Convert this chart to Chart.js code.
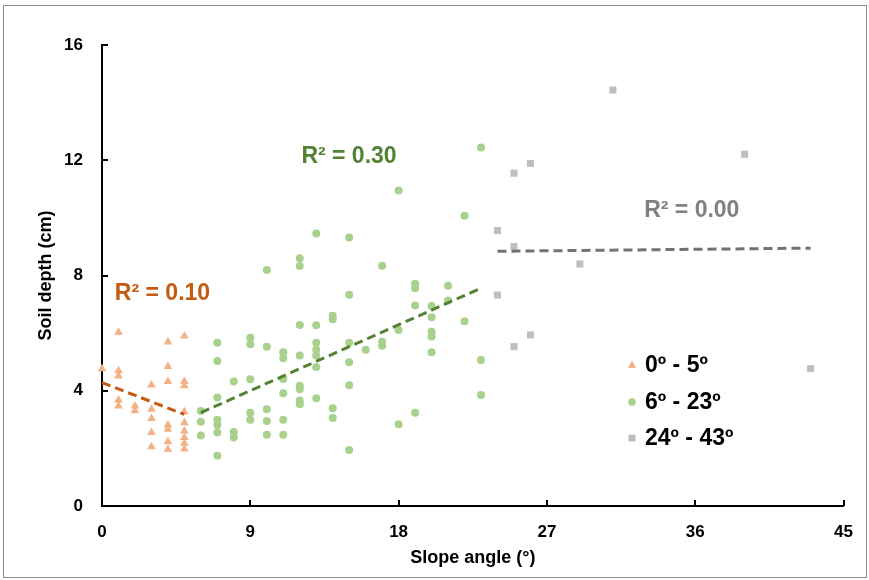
<!DOCTYPE html>
<html>
<head>
<meta charset="utf-8">
<script src="https://cdn.jsdelivr.net/npm/chart.js@4.4.1/dist/chart.umd.min.js"></script>
<style>
  html, body { margin: 0; padding: 0; background: #ffffff; }
  #wrap { position: relative; width: 869px; height: 580px; }
  #frame { position: absolute; left: 3px; top: 5px; width: 862px; height: 571px; border: 1px solid #8c8c8c; pointer-events: none; }
  canvas { display: block; }
</style>
</head>
<body>
<div id="wrap">
  <canvas id="c" width="869" height="580"></canvas>
  <div id="frame"></div>
</div>
<script>
// ---- Data ----
const seriesNames = ['0º - 5º', '6º - 23º', '24º - 43º'];

const lowSlopeX = [0, 1, 1, 1, 1, 1, 2, 2, 3, 3, 3, 3, 3, 4, 4, 4, 4, 4, 4, 4, 5, 5, 5, 5, 5, 5, 5, 5, 5];
const lowSlopeY = [4.76, 6.03, 4.69, 4.51, 3.68, 3.47, 3.47, 3.31, 4.2, 3.36, 3.04, 2.55, 2.06,
                   5.69, 4.84, 4.32, 2.81, 2.66, 2.23, 1.97, 5.9, 4.32, 4.17, 3.27, 2.89, 2.6, 2.38, 2.18, 1.98];

const midSlopeX = [6, 6, 6, 7, 7, 7, 7, 7, 7, 7, 8, 8, 8, 9, 9, 9, 9, 9, 10, 10, 10, 10, 10,
                   11, 11, 11, 11, 11, 11, 12, 12, 12, 12, 12, 12, 12, 12, 13, 13, 13, 13, 13, 13, 13,
                   14, 14, 14, 14, 15, 15, 15, 15, 15, 15, 16, 17, 17, 17, 18, 18, 18, 19, 19, 19, 19,
                   20, 20, 20, 20, 20, 21, 21, 22, 22, 23, 23, 23];
const midSlopeY = [3.30, 2.92, 2.45, 5.67, 5.03, 3.77, 2.99, 2.81, 2.55, 1.74, 4.32, 2.57, 2.38,
                   5.84, 5.61, 4.40, 3.24, 2.99, 8.19, 5.53, 3.36, 2.95, 2.47,
                   5.34, 5.13, 4.41, 3.91, 2.99, 2.47, 8.6, 8.33, 6.28, 5.22, 4.17, 4.05, 3.66, 3.53,
                   9.46, 6.27, 5.67, 5.42, 5.22, 4.82, 3.74, 6.6, 6.48, 3.39, 3.05,
                   9.32, 7.33, 5.67, 4.99, 4.19, 1.94, 5.42, 8.34, 5.7, 5.56, 10.95, 6.11, 2.84,
                   7.71, 7.56, 6.96, 3.24, 6.94, 6.55, 6.05, 5.88, 5.34, 7.64, 7.13, 10.07, 6.41,
                   12.44, 5.07, 3.85];

const highSlopeX = [24, 24, 25, 25, 25, 26, 26, 29, 31, 39, 43];
const highSlopeY = [9.56, 7.32, 11.55, 9.0, 5.53, 11.89, 5.94, 8.40, 14.44, 12.21, 4.77];

// Linear trend lines (end points)
const lowTrendX = [0, 5];
const lowTrendY = [4.28, 3.18];
const midTrendX = [6, 23];
const midTrendY = [3.24, 7.56];
const highTrendX = [24, 43];
const highTrendY = [8.84, 8.95];

const r2Labels = ['R² = 0.10', 'R² = 0.30', 'R² = 0.00'];

const xTickValues = [0, 9, 18, 27, 36, 45];
const yTickValues = [0, 4, 8, 12, 16];

// ---- Styles ----
const FONT = "'Liberation Sans', Arial, sans-serif";
const colors = {
  lowPt: '#F4B183', lowLine: '#C55A11',
  midPt: '#A9D18E', midLine: '#548235',
  highPt: '#BFBFBF', highLine: '#767171', highText: '#808080'
};

const pts = (xs, ys) => xs.map((x, i) => ({ x: x, y: ys[i] }));

// Annotation anchors (data coordinates, left-aligned text)
const r2Anchors = [
  { x: 0.78, y: 7.38, color: colors.lowLine },
  { x: 12.1, y: 12.12, color: colors.midLine },
  { x: 32.9, y: 10.24, color: colors.highText }
];

const annotationPlugin = {
  id: 'r2text',
  afterDatasetsDraw(chart) {
    const { ctx, scales: { x, y } } = chart;
    ctx.save();
    ctx.font = 'bold 23px ' + FONT;
    ctx.textAlign = 'left';
    ctx.textBaseline = 'middle';
    r2Labels.forEach((t, i) => {
      const a = r2Anchors[i];
      ctx.fillStyle = a.color;
      ctx.fillText(t, x.getPixelForValue(a.x), y.getPixelForValue(a.y));
    });
    ctx.restore();
  }
};

const inwardTicks = {
  id: 'inwardTicks',
  afterDraw(chart) {
    const { ctx, chartArea, scales: { x, y } } = chart;
    ctx.save();
    ctx.strokeStyle = '#000';
    ctx.lineWidth = 2;
    ctx.beginPath();
    x.ticks.forEach(t => {
      const px = Math.round(x.getPixelForValue(t.value));
      ctx.moveTo(px, chartArea.bottom);
      ctx.lineTo(px, chartArea.bottom - 6);
    });
    y.ticks.forEach(t => {
      const py = Math.round(y.getPixelForValue(t.value));
      ctx.moveTo(chartArea.left, py);
      ctx.lineTo(chartArea.left + 6, py);
    });
    ctx.stroke();
    ctx.restore();
  }
};

const legendPlugin = {
  id: 'customLegend',
  afterDraw(chart) {
    const { ctx } = chart;
    const items = [
      { style: 'triangle', color: colors.lowPt },
      { style: 'circle', color: colors.midPt },
      { style: 'rect', color: colors.highPt }
    ];
    const mx = 632, tx = 645, rows = [365, 402, 438];
    ctx.save();
    items.forEach((it, i) => {
      const cy = rows[i];
      ctx.fillStyle = it.color;
      ctx.beginPath();
      if (it.style === 'circle') {
        ctx.arc(mx, cy, 3.8, 0, Math.PI * 2);
      } else if (it.style === 'rect') {
        ctx.rect(mx - 3.5, cy - 3.5, 7, 7);
      } else {
        ctx.moveTo(mx, cy - 4.5);
        ctx.lineTo(mx + 4, cy + 3);
        ctx.lineTo(mx - 4, cy + 3);
        ctx.closePath();
      }
      ctx.fill();
      ctx.fillStyle = '#000';
      ctx.font = 'bold 23px ' + FONT;
      ctx.textAlign = 'left';
      ctx.textBaseline = 'middle';
      ctx.fillText(seriesNames[i], tx, cy + 1);
    });
    ctx.restore();
  }
};

const whiteBg = {
  id: 'whiteBg',
  beforeDraw(chart) {
    const { ctx, width, height } = chart;
    ctx.save();
    ctx.fillStyle = '#fff';
    ctx.fillRect(0, 0, width, height);
    ctx.restore();
  }
};

const trendDs = (xs, ys, color) => ({
  type: 'line',
  data: pts(xs, ys),
  borderColor: color,
  borderWidth: 3,
  borderDash: [9, 5],
  pointRadius: 0,
  fill: false,
  tension: 0,
  order: 0
});

new Chart(document.getElementById('c'), {
  type: 'scatter',
  data: {
    datasets: [
      { label: seriesNames[0], data: pts(lowSlopeX, lowSlopeY), pointStyle: 'triangle', pointRadius: 5,
        backgroundColor: colors.lowPt, borderColor: colors.lowPt, borderWidth: 0, order: 3, clip: false },
      { label: seriesNames[1], data: pts(midSlopeX, midSlopeY), pointStyle: 'circle', pointRadius: 4,
        backgroundColor: colors.midPt, borderColor: colors.midPt, borderWidth: 0, order: 2, clip: false },
      { label: seriesNames[2], data: pts(highSlopeX, highSlopeY), pointStyle: 'rect', pointRadius: 5,
        backgroundColor: colors.highPt, borderColor: colors.highPt, borderWidth: 0, order: 1, clip: false },
      trendDs(lowTrendX, lowTrendY, colors.lowLine),
      trendDs(midTrendX, midTrendY, colors.midLine),
      trendDs(highTrendX, highTrendY, colors.highLine)
    ]
  },
  options: {
    responsive: false,
    animation: false,
    layout: { padding: { left: 0, top: 45, right: 10, bottom: 0 } },
    plugins: { legend: { display: false }, tooltip: { enabled: false } },
    scales: {
      x: {
        type: 'linear', min: 0, max: 45,
        afterBuildTicks: s => { s.ticks = xTickValues.map(v => ({ value: v })); },
        afterFit: s => { s.height = 74; },
        ticks: { padding: 16, color: '#000', font: { family: FONT, size: 17, weight: 'bold' } },
        grid: { drawOnChartArea: false, drawTicks: false },
        border: { color: '#000', width: 2 },
        title: { display: true, text: 'Slope angle (°)', color: '#000',
                 font: { family: FONT, size: 18, weight: 'bold' }, padding: { top: 0, bottom: 11 } }
      },
      y: {
        type: 'linear', min: 0, max: 16,
        afterBuildTicks: s => { s.ticks = yTickValues.map(v => ({ value: v })); },
        afterFit: s => { s.width = 102; },
        ticks: { padding: 19, color: '#000', font: { family: FONT, size: 17, weight: 'bold' } },
        grid: { drawOnChartArea: false, drawTicks: false },
        border: { color: '#000', width: 2 },
        title: { display: true, text: 'Soil depth (cm)', color: '#000',
                 font: { family: FONT, size: 18, weight: 'bold' }, padding: { top: 35, bottom: 0 } }
      }
    }
  },
  plugins: [whiteBg, annotationPlugin, inwardTicks, legendPlugin]
});
</script>
</body>
</html>
